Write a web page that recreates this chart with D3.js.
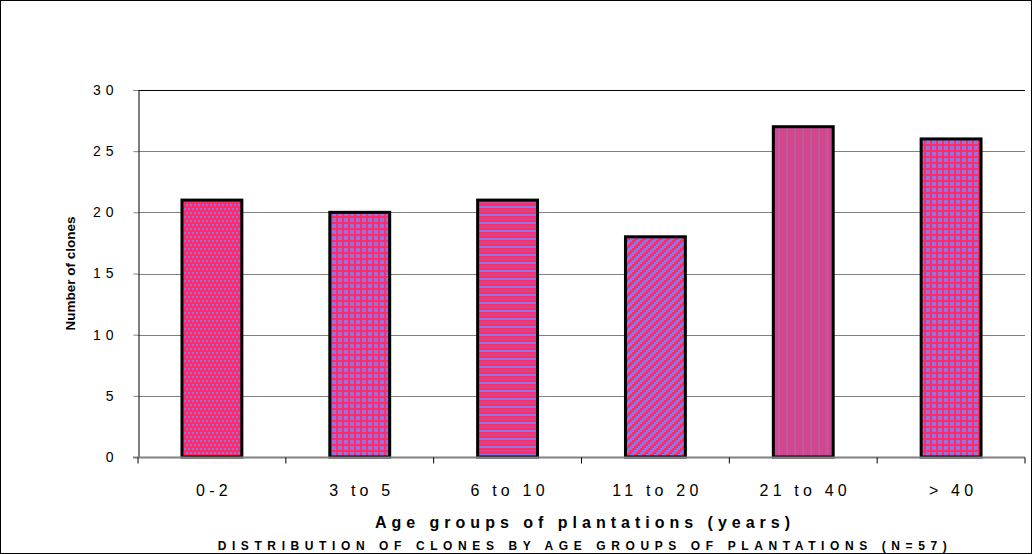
<!DOCTYPE html>
<html>
<head>
<meta charset="utf-8">
<script src="https://cdn.jsdelivr.net/npm/d3@7"></script>
<style>
  html, body { margin: 0; padding: 0; background: #fff; }
  svg { display: block; font-family: Arial, "Liberation Sans", sans-serif; }
</style>
</head>
<body>
<svg id="chart" width="1032" height="554"></svg>
<script>
// Clone counts per plantation age group
const categories = ["0-2", "3 to 5", "6 to 10", "11 to 20", "21 to 40", "> 40"];
const clones = [21, 20, 21, 18, 27, 26];
const yTicks = [0, 5, 10, 15, 20, 25, 30];
const fillPatterns = ["dots", "plaid", "hstripe", "diag", "vstripe", "grid"];

const svg = d3.select("#chart");
const W = 1032, H = 554;
const plot = { left: 138, right: 1025, top: 90, bottom: 457 };

// outer frame
svg.append("rect").attr("x", 0.5).attr("y", 0.5).attr("width", W - 1).attr("height", H - 1)
  .attr("fill", "#fff").attr("stroke", "#000").attr("stroke-width", 1);

// two-colour woven fills used for the bars, built from 2px cells
const CELL = 2;
const palette = { r: "#ff2a66", b: "#8a78e8", p: "#d2468e", q: "#c05aa0", v: "#a86ad0" };
const defs = svg.append("defs");
function pat(id, rows) {
  const n = rows.length * CELL;
  const p = defs.append("pattern").attr("id", id).attr("patternUnits", "userSpaceOnUse")
    .attr("width", n).attr("height", n);
  rows.forEach((row, yy) => row.split("").forEach((c, xx) => {
    p.append("rect").attr("x", xx * CELL).attr("y", yy * CELL).attr("width", CELL).attr("height", CELL)
      .attr("shape-rendering", "crispEdges").attr("fill", palette[c]);
  }));
}
pat("dots",    ["brbr", "rrrr", "rbrb", "rrrr"]);
pat("plaid",   ["rrr", "rbv", "rvb"]);
pat("hstripe", ["rrrr", "pppp", "rrrr", "bbbb"]);
pat("diag",    ["rrbb", "rbbr", "bbrr", "brrb"]);
pat("vstripe", ["pqpp", "pqpp", "pqpp", "pqpp"]);
pat("grid",    ["rrr", "rbb", "rbv"]);

const x = d3.scaleBand().domain(categories).range([plot.left, plot.right]).paddingInner(0.595).paddingOuter(0.2975);
const xAxisBand = d3.scaleBand().domain(categories).range([plot.left, plot.right]);
const y = d3.scaleLinear().domain([0, 30]).range([plot.bottom, plot.top]);

// horizontal gridlines
svg.append("g").selectAll("line").data(yTicks.filter(d => d > 0)).join("line")
  .attr("x1", plot.left).attr("x2", plot.right)
  .attr("y1", d => Math.round(y(d)) + 0.5).attr("y2", d => Math.round(y(d)) + 0.5)
  .attr("stroke", d => d === 30 ? "#000" : "#808080").attr("stroke-width", 1);

// bars
svg.append("g").selectAll("rect").data(categories).join("rect")
  .attr("x", d => x(d)).attr("width", x.bandwidth())
  .attr("y", (d, i) => y(clones[i])).attr("height", (d, i) => y(0) - y(clones[i]))
  .attr("fill", (d, i) => `url(#${fillPatterns[i]})`)
  .attr("stroke", "#000").attr("stroke-width", 3);

// y axis
const yAxis = svg.append("g").attr("transform", `translate(${plot.left + 0.5},0)`)
  .call(d3.axisLeft(y).tickValues(yTicks).tickSize(5).tickPadding(15).tickFormat(d => String(d)));
yAxis.select(".domain").attr("stroke", "#000");
yAxis.selectAll(".tick line").attr("stroke", "#808080");
yAxis.selectAll(".tick text").attr("font-size", 14).attr("letter-spacing", "5px").attr("fill", "#000");

// x axis
const xAxis = svg.append("g").attr("transform", `translate(0,${plot.bottom + 0.5})`)
  .call(d3.axisBottom(xAxisBand).tickSize(0).tickPadding(27));
xAxis.select(".domain").attr("stroke", "#808080").attr("stroke-width", 2).attr("d", `M${plot.left - 5},0H${plot.right}`);
xAxis.selectAll(".tick text").attr("font-size", 16).attr("letter-spacing", "4.2px").attr("fill", "#000")
  .attr("dx", "2px");
// category boundary ticks
xAxis.append("g").selectAll("line").data(d3.range(categories.length + 1)).join("line")
  .attr("x1", i => plot.left + i * xAxisBand.step()).attr("x2", i => plot.left + i * xAxisBand.step())
  .attr("y1", 0).attr("y2", 6).attr("stroke", "#000");

// axis titles
svg.append("text").attr("transform", `translate(75,${(plot.top + plot.bottom) / 2}) rotate(-90)`)
  .attr("text-anchor", "middle").attr("font-size", 13.5).attr("font-weight", "bold")
  .text("Number of clones");
svg.append("text").attr("x", 585).attr("y", 528).attr("text-anchor", "middle")
  .attr("font-size", 16).attr("font-weight", "bold").attr("letter-spacing", "5px")
  .text("Age groups of plantations (years)");
svg.append("text").attr("x", 585).attr("y", 550).attr("text-anchor", "middle")
  .attr("font-size", 12).attr("font-weight", "bold").attr("letter-spacing", "5.6px")
  .text("DISTRIBUTION OF CLONES BY AGE GROUPS OF PLANTATIONS (N=57)");
</script>
</body>
</html>
